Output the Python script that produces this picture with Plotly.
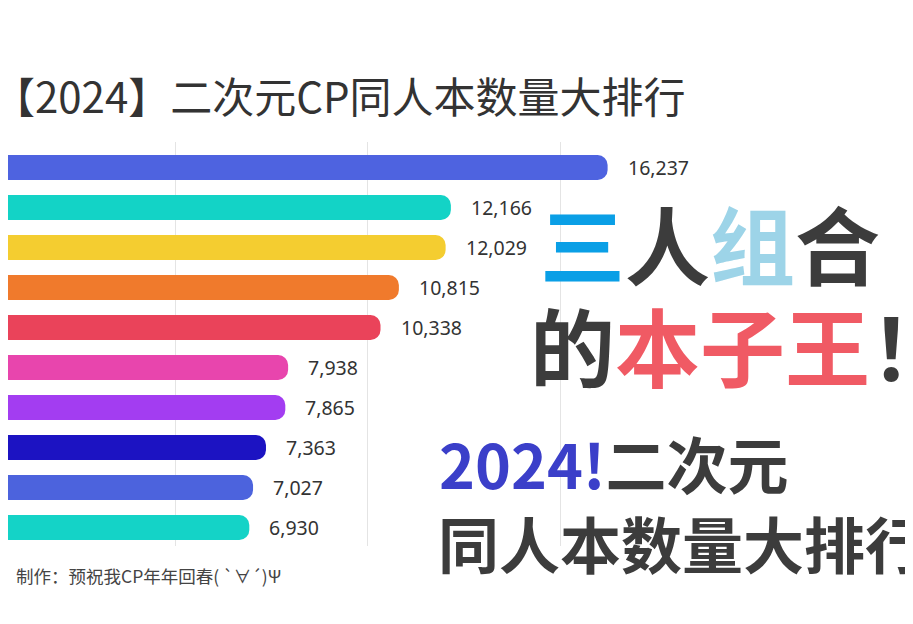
import plotly.graph_objects as go

# --- data --------------------------------------------------------------
ranks = [1, 2, 3, 4, 5, 6, 7, 8, 9, 10]
counts = [16237, 12166, 12029, 10815, 10338, 7938, 7865, 7363, 7027, 6930]
bar_colors = [
    "#4e63e0", "#13d3c6", "#f4cd30", "#f07a2c", "#ea435a",
    "#e845ad", "#a33df1", "#1c13c2", "#4c63dd", "#14d3c7",
]
grid_values = [5000, 10000, 15000]

title_text = "【2024】二次元CP同人本数量大排行"
footer_text = "制作：预祝我CP年年回春( `∀´)Ψ"

W, H = 913, 624
BODY = 8  # the page puts the figure 8px in from the window corner
PLOT_TOP, PLOT_BOTTOM = 142 - BODY, 546 - BODY
CJK = "Noto Sans CJK SC"
DARK = "#3c3c3c"


def px_y(py):
    """Window pixel row -> paper y."""
    return (PLOT_BOTTOM - (py - BODY)) / (PLOT_BOTTOM - PLOT_TOP)


def px_x(px):
    """Window pixel column -> paper x (plot spans the full figure width)."""
    return (px - BODY) / W


fig = go.Figure()
fig.add_trace(
    go.Bar(
        x=counts,
        y=ranks,
        orientation="h",
        marker={"color": bar_colors, "cornerradius": 10, "line": {"width": 0}},
        hoverinfo="skip",
    )
)

annotations = []
# value labels just right of each bar end
for rank, value in zip(ranks, counts):
    annotations.append(
        dict(
            x=value, y=rank, xref="x", yref="y",
            text=f"{value:,}", showarrow=False,
            xanchor="left", yanchor="middle", xshift=18,
            font={"family": "Noto Sans", "size": 19.5, "color": "#333333"},
        )
    )

# chart title and footer
annotations.append(
    dict(
        x=px_x(-9), y=px_y(95), xref="paper", yref="paper",
        text=title_text, showarrow=False, xanchor="left", yanchor="middle",
        font={"family": CJK, "size": 42, "color": "#333333"},
    )
)
annotations.append(
    dict(
        x=px_x(14), y=px_y(575), xref="paper", yref="paper",
        text=footer_text, showarrow=False, xanchor="left", yanchor="middle",
        font={"family": CJK, "size": 17.5, "color": "#444444"},
    )
)

# big overlay caption
overlay_lines = [
    (538, 241, 85,
     "<b><span style='color:#0a9fe6'>三</span>人"
     "<span style='color:#9dd4e8'>组</span>合</b>"),
    (528, 343, 85,
     "<b>的<span style='color:#f05a64'>本子王</span>！</b>"),
    (437, 462, 61,
     "<b><span style='color:#3b3fc9'>2024!</span>二次元</b>"),
    (436, 542, 61, "<b>同人本数量大排行</b>"),
]
for left, mid, size, text in overlay_lines:
    annotations.append(
        dict(
            x=px_x(left), y=px_y(mid), xref="paper", yref="paper",
            text=text, showarrow=False, xanchor="left", yanchor="middle",
            font={"family": CJK, "size": size, "color": DARK},
        )
    )

fig.update_layout(
    width=W,
    height=H,
    margin={"l": 0, "r": 0, "t": PLOT_TOP, "b": H - PLOT_BOTTOM, "pad": 0},
    paper_bgcolor="white",
    plot_bgcolor="white",
    bargap=0.375,
    showlegend=False,
    xaxis={
        "range": [662, 24377],
        "tickvals": grid_values,
        "showticklabels": False,
        "showgrid": True,
        "gridcolor": "#e4e4e4",
        "gridwidth": 1,
        "zeroline": False,
        "showline": False,
    },
    yaxis={
        "range": [10.4625, 0.3625],
        "showticklabels": False,
        "showgrid": False,
        "zeroline": False,
        "showline": False,
    },
    annotations=annotations,
)

fig.write_html("out.html")
